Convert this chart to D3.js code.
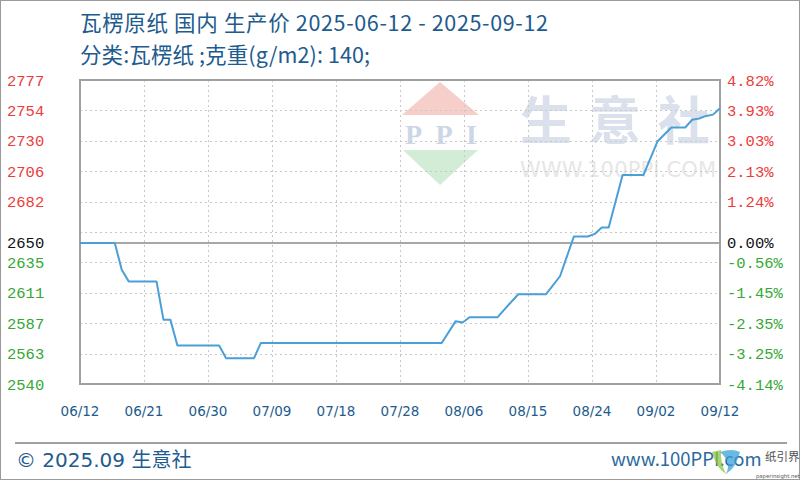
<!DOCTYPE html>
<html><head><meta charset="utf-8">
<script src="https://cdn.jsdelivr.net/npm/d3@7/dist/d3.min.js"></script>
<style>html,body{margin:0;padding:0;background:#fff;}svg{display:block;}</style>
</head><body>
<svg id="c" width="800" height="480"></svg>
<script>
const titleText = "瓦楞原纸 国内 生产价 2025-06-12 - 2025-09-12";
const subtitleText = "分类:瓦楞纸 ;克重(g/m2): 140;";
const basePrice = 2650;
const dates = ["2025-06-12","2025-06-17","2025-06-18","2025-06-19","2025-06-23","2025-06-24","2025-06-25","2025-06-26","2025-07-02","2025-07-03","2025-07-07","2025-07-08","2025-08-03","2025-08-05","2025-08-06","2025-08-07","2025-08-11","2025-08-14","2025-08-18","2025-08-20","2025-08-22","2025-08-24","2025-08-25","2025-08-26","2025-08-27","2025-08-29","2025-09-01","2025-09-03","2025-09-05","2025-09-07","2025-09-08","2025-09-09","2025-09-10","2025-09-11","2025-09-12"];
const prices = [2650,2650,2629,2620,2620,2590,2590,2570,2570,2560,2560,2572,2572,2589,2588,2592,2592,2610,2610,2624,2655,2655,2657,2662,2662,2703,2703,2729,2740,2740,2746,2747,2749,2750,2755];
const xTickLabels = ["06/12","06/21","06/30","07/09","07/18","07/28","08/06","08/15","08/24","09/02","09/12"];
const yGridValues = [2540,2563.7,2587.4,2611.1,2634.8,2658.5,2682.2,2705.9,2729.6,2753.3,2777];
const yLeftLabels = ["2540","2563","2587","2611","2635","2650","2682","2706","2730","2754","2777"];
const yRightLabels = ["-4.14%","-3.25%","-2.35%","-1.45%","-0.56%","0.00%","1.24%","2.13%","3.03%","3.93%","4.82%"];
const yLabelValues = [2540,2563.7,2587.4,2611.1,2634.8,2650,2682.2,2705.9,2729.6,2753.3,2777];

const svg = d3.select("#c");
const L = 80, R = 720, T = 80, B = 384;
const parse = d3.timeParse("%Y-%m-%d");
const data = dates.map((d,i)=>({d:parse(d), v:prices[i]}));
const x = d3.scaleTime().domain([parse(dates[0]), parse(dates[dates.length-1])]).range([L,R]);
const y = d3.scaleLinear().domain([2540,2777]).range([B,T]);
const xi = d3.scaleLinear().domain([0, xTickLabels.length-1]).range([L,R]);

// outer frame
svg.append("rect").attr("x",0.5).attr("y",0.5).attr("width",799).attr("height",479).attr("fill","#fff").attr("stroke","#9a9a9a");

// watermark logo
const wm = svg.append("g");
wm.append("path").attr("d",`M402,115 L440,82 L479,115 Z`).attr("fill","#f6cfca");
wm.append("text").attr("x",405).attr("y",144).attr("font-family","Liberation Serif, DejaVu Serif").attr("font-size",28).attr("font-weight","bold").attr("textLength",72).attr("lengthAdjust","spacing").attr("fill","#cdd6e6").text("PPI");
wm.append("path").attr("d",`M403,150 L478,150 L440,185 Z`).attr("fill","#d3ecd5");
wm.append("text").attr("x",520).attr("y",140).attr("font-family","Noto Sans CJK SC").attr("font-size",52).attr("font-weight","bold").attr("textLength",190).attr("lengthAdjust","spacing").attr("fill","#dbe1ec").text("生意社");
wm.append("text").attr("x",520).attr("y",177).attr("font-family","DejaVu Sans").attr("font-size",21).attr("textLength",196).attr("fill","#e6e6e6").text("WWW.100PPI.COM");

// grid
const g = svg.append("g");
g.selectAll(".hg").data(yGridValues).join("line")
  .attr("x1",L).attr("x2",R).attr("y1",d=>Math.round(y(d))+0.5).attr("y2",d=>Math.round(y(d))+0.5)
  .attr("stroke","#c8c8c8").attr("stroke-dasharray","2,3");
g.selectAll(".vg").data(xTickLabels).join("line")
  .attr("x1",(d,i)=>Math.round(xi(i))+0.5).attr("x2",(d,i)=>Math.round(xi(i))+0.5).attr("y1",T).attr("y2",B)
  .attr("stroke","#c8c8c8").attr("stroke-dasharray","2,3");
// base line
g.append("line").attr("x1",L).attr("x2",R).attr("y1",y(basePrice)).attr("y2",y(basePrice)).attr("stroke","#a8a8a8").attr("stroke-width",2);

// plot frame
svg.append("rect").attr("x",L).attr("y",T).attr("width",R-L).attr("height",B-T).attr("fill","none").attr("stroke","#a0a0a0").attr("stroke-width",2);

// line
const line = d3.line().x(d=>x(d.d)).y(d=>y(d.v));
svg.append("path").datum(data).attr("d",line).attr("fill","none").attr("stroke","#4a9fd8").attr("stroke-width",2).attr("stroke-linejoin","round");

// y labels
const col = v => v > basePrice ? "#ee3b3b" : (v < basePrice ? "#34a834" : "#111");
const monoFont = "Liberation Mono";
svg.selectAll(".yl").data(yLabelValues).join("text")
  .attr("x",7).attr("y",d=>y(d)).attr("dy","0.36em")
  .attr("font-family",monoFont).attr("font-size",15.5).attr("fill",d=>col(d))
  .text((d,i)=>yLeftLabels[i]);
svg.selectAll(".yr").data(yLabelValues).join("text")
  .attr("x",727).attr("y",d=>y(d)).attr("dy","0.36em")
  .attr("font-family",monoFont).attr("font-size",15.5).attr("fill",d=>col(d))
  .text((d,i)=>yRightLabels[i]);

// x labels
svg.selectAll(".xl").data(xTickLabels).join("text")
  .attr("x",(d,i)=>xi(i)).attr("y",416).attr("text-anchor","middle")
  .attr("font-family","DejaVu Sans").attr("font-size",13.5).attr("fill","#1e5b8e")
  .text(d=>d);

// titles
svg.append("text").attr("x",80).attr("y",31).attr("font-family","Noto Sans CJK SC").attr("font-size",21.5).attr("textLength",468).attr("lengthAdjust","spacing").attr("fill","#1e5b8e").text(titleText);
svg.append("text").attr("x",80).attr("y",63).attr("font-family","Noto Sans CJK SC").attr("font-size",21.5).attr("textLength",290).attr("lengthAdjust","spacing").attr("fill","#1e5b8e").text(subtitleText);

// footer
svg.append("line").attr("x1",15).attr("x2",787).attr("y1",443).attr("y2",443).attr("stroke","#a0a0a0").attr("stroke-width",2);
svg.append("text").attr("x",16).attr("y",467).attr("font-family","DejaVu Sans, Noto Sans CJK SC").attr("font-size",20).attr("fill","#1e5b8e").text("© 2025.09 生意社");
svg.append("text").attr("x",611).attr("y",466).attr("font-family","Noto Sans CJK SC").attr("font-size",18.5).attr("fill","#2a6a9e").text("www.100PPI.com");
// paperinsight mark
svg.append("path").attr("d","M712,452 Q716,468 726,474 Q720,462 721,450 Z").attr("fill","#8cc63f").attr("opacity",0.75);
svg.append("path").attr("d","M720,452 Q732,448 740,452 Q736,468 726,474 Q732,462 720,452 Z").attr("fill","#3aa0d8").attr("opacity",0.75);
svg.append("text").attr("x",765).attr("y",461).attr("font-family","Noto Sans CJK SC").attr("font-size",11.5).attr("fill","#333").attr("opacity",0.85).text("纸引界");
svg.append("text").attr("x",756).attr("y",478).attr("font-family","DejaVu Sans").attr("font-size",5.3).attr("fill","#555").text("paperinsight.net");
</script>
</body></html>
